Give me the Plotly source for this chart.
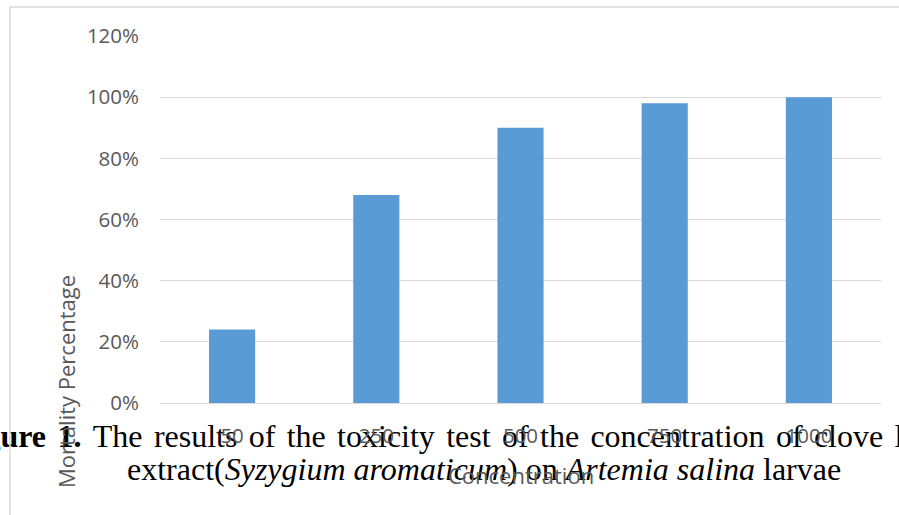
import plotly.graph_objects as go

# ---- data ---------------------------------------------------------------
concentrations = ["50", "250", "500", "750", "1000"]
mortality = [0.24, 0.68, 0.90, 0.98, 1.00]
y_tick_values = [0, 0.2, 0.4, 0.6, 0.8, 1.0, 1.2]
y_tick_labels = ["0%", "20%", "40%", "60%", "80%", "100%", "120%"]

x_title = "Concentration"
y_title = "Mortality Percentage"

caption_line1 = ["<b>Figure</b>", "<b>1.</b>", "The", "results", "of", "the",
                 "toxicity", "test", "of", "the", "concentration", "of",
                 "clove", "leaf"]
caption_line2 = "extract(<i>Syzygium aromaticum</i>) on <i>Artemia salina</i> larvae"

# ---- page geometry (pixels) ---------------------------------------------
W, H = 899, 515
PLOT_L, PLOT_R, PLOT_T, PLOT_B = 160, 881, 36, 403

# justified first caption line: anchor x of each word and which side it hangs
line1_word_x = [46, 57.5, 92.8, 153.9, 248.7, 286.7, 337.1, 446.2, 502,
                540, 590.4, 775.9, 813.9, 894.5]
line1_word_pos = ["middle left"] + ["middle right"] * (len(caption_line1) - 1)
line2_x = 127
line1_mid_y = 439
line2_mid_y = 472
CAPTION_SIZE = 32


def paper_x(px):
    return px / W


def paper_y(py):
    return 1 - py / H


GREY_TEXT = "#595959"
GRID = "#d9d9d9"
BAR = "#5b9bd5"
SANS = "Open Sans"
SERIF = "Liberation Serif"

fig = go.Figure()

# caption text in a full-page pixel subplot drawn underneath the chart
fig.add_trace(go.Scatter(
    x=line1_word_x + [line2_x],
    y=[H - line1_mid_y] * len(line1_word_x) + [H - line2_mid_y],
    text=caption_line1 + [caption_line2],
    mode="text",
    textposition=line1_word_pos + ["middle right"],
    textfont=dict(family=SERIF, size=CAPTION_SIZE, color="black"),
    cliponaxis=False,
    hoverinfo="skip",
    showlegend=False,
    xaxis="x", yaxis="y",
))

# mortality bars
fig.add_trace(go.Bar(
    x=concentrations,
    y=mortality,
    marker=dict(color=BAR, line=dict(width=0)),
    showlegend=False,
    xaxis="x2", yaxis="y2",
))

fig.update_layout(
    width=W, height=H,
    margin=dict(l=0, r=0, t=0, b=0, pad=0, autoexpand=False),
    paper_bgcolor="white",
    plot_bgcolor="rgba(0,0,0,0)",
    bargap=0.68,
    xaxis=dict(visible=False, range=[0, W], domain=[0, 1], fixedrange=True,
               automargin=False),
    yaxis=dict(visible=False, range=[0, H], domain=[0, 1], fixedrange=True,
               automargin=False),
    xaxis2=dict(
        anchor="y2", type="category", automargin=False,
        domain=[paper_x(PLOT_L), paper_x(PLOT_R)],
        showgrid=False, showline=False, zeroline=False, ticks="",
        tickfont=dict(family=SANS, size=20.5, color=GREY_TEXT),
        ticklabelstandoff=18,
    ),
    yaxis2=dict(
        anchor="x2", range=[0, 1.2], automargin=False,
        domain=[paper_y(PLOT_B), paper_y(PLOT_T)],
        tickvals=y_tick_values, ticktext=y_tick_labels,
        showgrid=True, gridcolor=GRID, gridwidth=1.4,
        zeroline=True, zerolinecolor=GRID, zerolinewidth=1.4,
        showline=False, ticks="",
        tickfont=dict(family=SANS, size=20.5, color=GREY_TEXT),
        ticklabelstandoff=20,
    ),
    shapes=[dict(
        type="path", xref="paper", yref="paper",
        path="M {x0},{y0} L {x0},{y1} L {x1},{y1}".format(
            x0=paper_x(10), y0=paper_y(525), y1=paper_y(7), x1=paper_x(910)),
        line=dict(color=GRID, width=1.5),
    )],
    annotations=[
        dict(text=y_title, xref="paper", yref="paper",
             x=paper_x(66), y=paper_y(382),
             xanchor="center", yanchor="middle", textangle=-90, showarrow=False,
             font=dict(family=SANS, size=22, color=GREY_TEXT)),
        dict(text=x_title, xref="paper", yref="paper",
             x=paper_x(521), y=paper_y(475),
             xanchor="center", yanchor="middle", showarrow=False,
             font=dict(family=SANS, size=22, color=GREY_TEXT)),
    ],
)

fig.write_html("out.html")
